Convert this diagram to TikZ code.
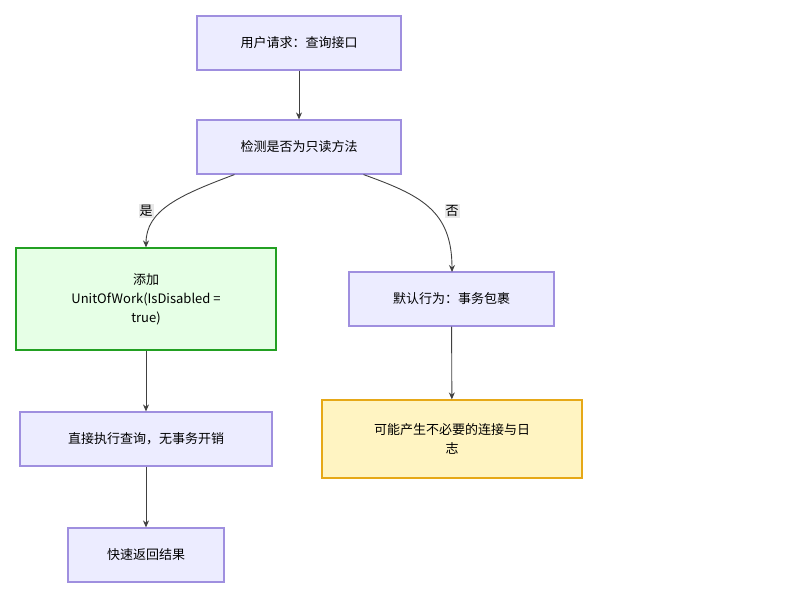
\documentclass[tikz,border=0pt]{standalone}
\usepackage{fontspec}
\setmainfont{Noto Sans CJK SC}
\usetikzlibrary{arrows.meta}
\definecolor{nfill}{HTML}{ECECFF}
\definecolor{nline}{HTML}{9F8FDF}
\definecolor{gfill}{HTML}{E6FFE6}
\definecolor{gline}{HTML}{22A022}
\definecolor{yfill}{HTML}{FFF4C2}
\definecolor{yline}{HTML}{E6A817}
\definecolor{lbl}{HTML}{E8E8E8}
\begin{document}
\begin{tikzpicture}[x=1pt,y=-1pt,
  box/.style={draw=nline,fill=nfill,line width=1.2pt,align=center,font=\fontsize{13}{19}\selectfont,inner sep=0pt},
  arr/.style={draw=black!75,line width=0.9pt,-{Stealth[length=7pt,width=6pt]}},
  el/.style={fill=lbl,font=\fontsize{13}{15}\selectfont,inner sep=1pt}]
\useasboundingbox (0,0) rectangle (800,605);
\node[box,minimum width=204,minimum height=54] (a) at (299,43) {用户请求：查询接口};
\node[box,minimum width=204,minimum height=54] (b) at (299,147) {检测是否为只读方法};
\node[box,draw=gline,fill=gfill,minimum width=260,minimum height=102] (c) at (146,299) {添加\\UnitOfWork(IsDisabled =\\true)};
\node[box,minimum width=205,minimum height=54] (d) at (451.5,299) {默认行为：事务包裹};
\node[box,minimum width=252,minimum height=54] (e) at (146,439) {直接执行查询，无事务开销};
\node[box,draw=yline,fill=yfill,minimum width=260,minimum height=78] (f) at (452,439) {可能产生不必要的连接与日\\志};
\node[box,minimum width=156,minimum height=54] (g) at (146,555) {快速返回结果};
\draw[arr] (a) -- (b);
\draw[arr] (b.south west)+(38,0) .. controls (180,195) and (146,210) .. (c.north);
\draw[arr] (b.south east)+(-38,0) .. controls (420,195) and (452,210) .. (452,272);
\node[el] (l1) at (146,211) {是};
\node[el] (l2) at (452,211) {否};
\draw[arr] (c) -- (e);
\draw[arr] (e) -- (g);
\draw[arr] (d) -- (f);
\end{tikzpicture}
\end{document}
